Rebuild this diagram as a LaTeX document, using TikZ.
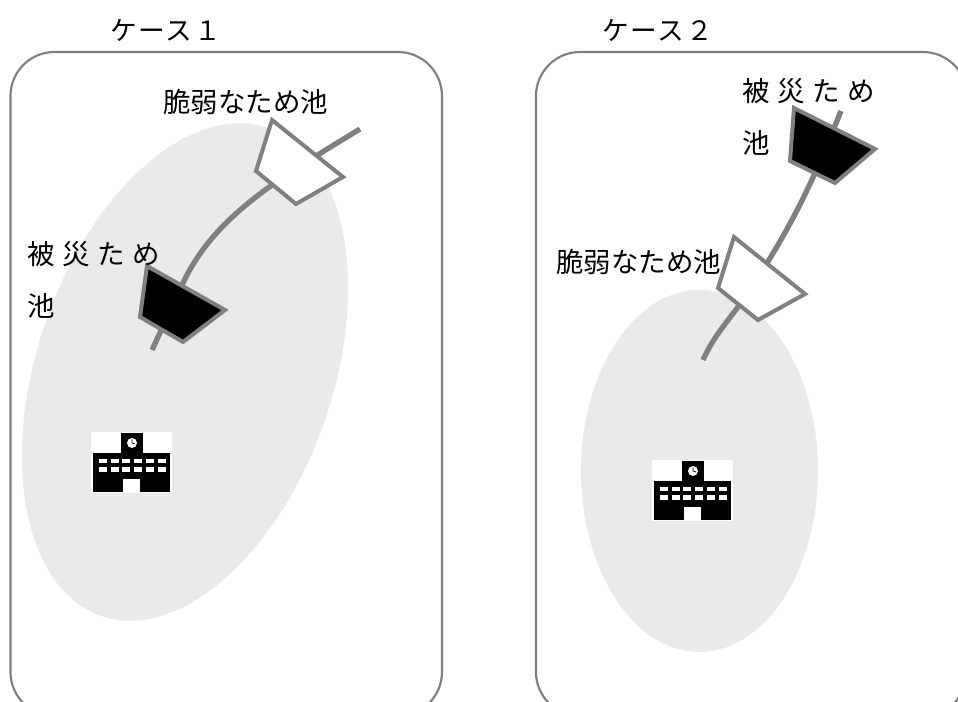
\documentclass[tikz,border=0pt]{standalone}
\usepackage{fontspec}
\usepackage{xcolor}
\usepackage{tikz}
\newfontfamily\jpfont{Noto Sans CJK JP}
\newfontfamily\jpwide[LetterSpace=28]{Noto Sans CJK JP}
\newfontfamily\jphead[LetterSpace=7]{Noto Sans CJK JP}
\definecolor{edgeGray}{HTML}{808080}
\definecolor{zoneGray}{HTML}{EAEAEA}
\tikzset{
    panel/.style={draw=edgeGray, line width=1.6pt, rounded corners=33pt},
    zone/.style={fill=zoneGray},
    stream/.style={draw=edgeGray, line width=4pt},
    pondWeak/.style={draw=edgeGray, line width=3pt, fill=white, line join=miter},
    pondHit/.style={draw=edgeGray, line width=3pt, fill=black, line join=miter},
    caseLabel/.style={anchor=west, inner sep=0pt, font=\jphead\fontsize{20}{24}\selectfont},
    pondLabel/.style={anchor=west, inner sep=0pt, font=\jpfont\fontsize{20.6}{24}\selectfont},
    hitLabel/.style={anchor=north west, inner sep=0pt, align=left, font=\jpwide\fontsize{20.6}{39}\selectfont},
    school/.pic={
        \fill[white] (0,0) rectangle (81,61);
        \fill[black] (2,21) rectangle (79,60);
        \fill[black] (30,1) rectangle (52,21);
        \fill[white] (41,11) circle (5);
        \draw[black, line width=0.5pt] (41,7.5) -- (41,11) -- (44,12);
        \fill[white] (32,47) rectangle (49,60);
        % Windows
        \foreach \i in {0,...,5} {
            \fill[white] (\i*11.7+8,27) rectangle (\i*11.7+16,31);
            \fill[white] (\i*11.7+8,35) rectangle (\i*11.7+16,40);
        }
    }
}
\begin{document}
\begin{tikzpicture}[x=0.75pt, y=-0.75pt]
    \clip (0,0) rectangle (958,702);

    % Case 1
    \node[caseLabel] (HeadA) at (110,30) {ケース１};
    \draw[panel] (10.5,52) rectangle (442,716);
    \fill[zone, rotate around={-18.9:(185,372)}] (185,372) ellipse (148 and 258);
    \draw[stream] (360,129) .. controls (280,178) and (215,215) .. (183,283) -- (152,350);
    \draw[pondWeak] (272,120) -- (256,171) -- (296,204) -- (343,177) -- cycle;
    \draw[pondHit] (147,266) -- (140,317) -- (183,342) -- (225,310) -- cycle;
    \node[pondLabel] (WeakA) at (163,102) {脆弱なため池};
    \node[hitLabel] (HitA) at (27,241) {被災ため\\池};
    \pic at (91,432) {school};

    % Case 2
    \node[caseLabel] (HeadB) at (602,30) {ケース２};
    \draw[panel] (536,52) rectangle (967,716);
    \fill[zone] (699.5,471) ellipse (118.5 and 181);
    \draw[stream] (841,111) .. controls (815,175) and (795,225) .. (738,307) .. controls (722,328) and (712,340) .. (703,360);
    \draw[pondHit] (794,108) -- (790,161) -- (835,183) -- (875,149) -- cycle;
    \draw[pondWeak] (734,237) -- (718,288) -- (758,320) -- (805,294) -- cycle;
    \node[pondLabel] (WeakB) at (556,262) {脆弱なため池};
    \node[hitLabel] (HitB) at (742,78) {被災ため\\池};
    \pic at (652,460) {school};
\end{tikzpicture}
\end{document}
